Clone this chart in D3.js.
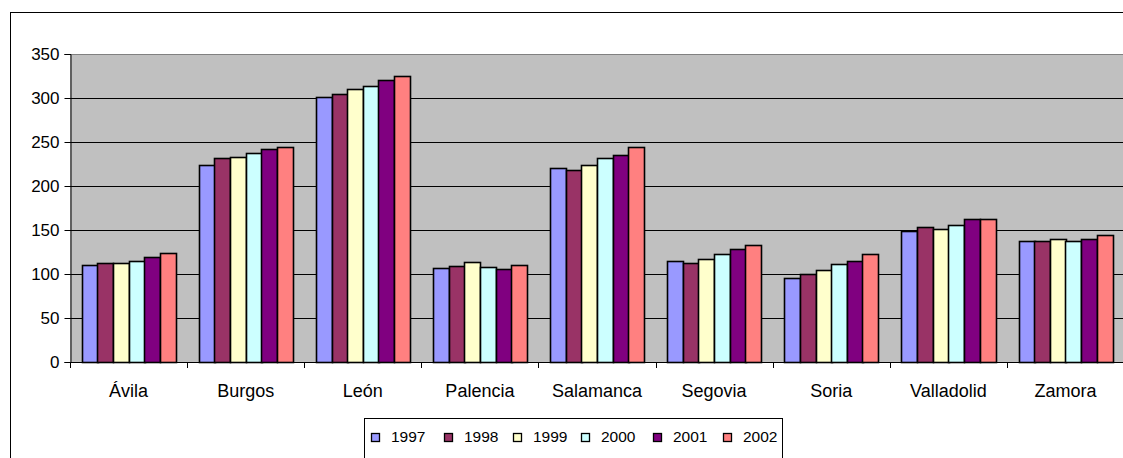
<!DOCTYPE html>
<html>
<head>
<meta charset="utf-8">
<script src="https://cdn.jsdelivr.net/npm/d3@7"></script>
<style>
  html, body { margin: 0; padding: 0; background: #fff; }
  svg { display: block; }
  text { font-family: "Liberation Sans", Arial, sans-serif; fill: #000; }
</style>
</head>
<body>
<svg id="chart" width="1123" height="458"></svg>
<script>
const categories = ["Ávila", "Burgos", "León", "Palencia", "Salamanca", "Segovia", "Soria", "Valladolid", "Zamora"];
const years = ["1997", "1998", "1999", "2000", "2001", "2002"];
const v1997 = [110, 224, 301, 107, 221, 115, 96, 149, 138];
const v1998 = [113, 232, 304, 109, 218, 112, 100, 153, 137];
const v1999 = [113, 233, 310, 114, 224, 117, 105, 151, 140];
const v2000 = [115, 238, 314, 108, 232, 123, 111, 156, 137];
const v2001 = [119, 242, 321, 106, 235, 128, 115, 162, 140];
const v2002 = [124, 244, 325, 110, 244, 133, 123, 162, 144];
const yTicks = [0, 50, 100, 150, 200, 250, 300, 350];
const colors = ["#9999FF", "#993366", "#FFFFCC", "#CCFFFF", "#800080", "#FF8080"];

const seriesValues = [v1997, v1998, v1999, v2000, v2001, v2002];

const svg = d3.select("#chart");

// outer chart border
svg.append("rect")
  .attr("x", 10.5).attr("y", 12.5)
  .attr("width", 1130).attr("height", 470)
  .attr("fill", "#fff").attr("stroke", "#000").attr("stroke-width", 1);

const plot = { left: 70, right: 1124, top: 54, bottom: 362 };

const x = d3.scaleBand().domain(categories).range([plot.left, plot.right]).padding(0);
const x1 = d3.scaleBand().domain(years).range([0, x.bandwidth()]).paddingInner(0).paddingOuter(0.75);
const y = d3.scaleLinear().domain([0, 350]).range([plot.bottom, plot.top]);

// plot area background
svg.append("rect")
  .attr("x", plot.left).attr("y", y(350))
  .attr("width", plot.right - plot.left).attr("height", y(0) - y(350))
  .attr("fill", "#C0C0C0");

// top border of plot area
svg.append("line")
  .attr("x1", plot.left).attr("x2", plot.right)
  .attr("y1", Math.round(y(350)) + 0.5).attr("y2", Math.round(y(350)) + 0.5)
  .attr("stroke", "#808080");

// gridlines
svg.append("g").selectAll("line")
  .data(yTicks.filter(d => d > 0 && d < 350))
  .join("line")
  .attr("x1", plot.left).attr("x2", plot.right)
  .attr("y1", d => Math.round(y(d)) + 0.5).attr("y2", d => Math.round(y(d)) + 0.5)
  .attr("stroke", "#000").attr("stroke-width", 1);

// bars
const groups = svg.append("g").selectAll("g")
  .data(years)
  .join("g")
  .attr("fill", (d, i) => colors[i]);

groups.selectAll("rect")
  .data((yr, si) => categories.map((c, ci) => ({ c, yr, v: seriesValues[si][ci] })))
  .join("rect")
  .attr("x", d => Math.round(x(d.c) + x1(d.yr)) + 0.5)
  .attr("y", d => Math.round(y(d.v)) + 0.5)
  .attr("width", d => Math.round(x1.bandwidth()))
  .attr("height", d => Math.round(y(0)) - Math.round(y(d.v)))
  .attr("stroke", "#000").attr("stroke-width", 1.6);

// y axis
const yAxis = svg.append("g")
  .attr("transform", `translate(${plot.left + 0.5},0)`)
  .call(d3.axisLeft(y).tickValues(yTicks).tickSize(6).tickPadding(5).tickFormat(d3.format("d")));
yAxis.select(".domain").attr("stroke", "#000");
yAxis.selectAll(".tick line").attr("stroke", "#000");
yAxis.selectAll(".tick text").attr("font-size", 17).attr("font-family", "'Liberation Sans', Arial, sans-serif").attr("fill", "#000");

// x axis: line + boundary ticks
svg.append("line")
  .attr("x1", plot.left).attr("x2", plot.right)
  .attr("y1", plot.bottom + 0.5).attr("y2", plot.bottom + 0.5)
  .attr("stroke", "#000");
svg.append("g").selectAll("line")
  .data(categories)
  .join("line")
  .attr("x1", d => Math.round(x(d)) + 0.5).attr("x2", d => Math.round(x(d)) + 0.5)
  .attr("y1", plot.bottom).attr("y2", plot.bottom + 6)
  .attr("stroke", "#000");

const xAxis = svg.append("g")
  .attr("transform", `translate(0,${plot.bottom})`)
  .call(d3.axisBottom(x).tickSize(0).tickPadding(22));
xAxis.select(".domain").remove();
xAxis.selectAll(".tick text")
  .attr("font-size", 18).attr("font-family", "'Liberation Sans', Arial, sans-serif").attr("fill", "#000")
  .attr("dy", 0).attr("y", 35);

// legend
const legend = svg.append("g");
legend.append("rect")
  .attr("x", 364.5).attr("y", 418.5)
  .attr("width", 418).attr("height", 60)
  .attr("fill", "#fff").attr("stroke", "#000");
const legendX = [371, 444, 513, 581, 653, 723];
const items = legend.selectAll("g.item")
  .data(years)
  .join("g").attr("class", "item")
  .attr("transform", (d, i) => `translate(${legendX[i]},0)`);
items.append("rect")
  .attr("x", 0.5).attr("y", 433.5).attr("width", 8).attr("height", 8)
  .attr("fill", (d, i) => colors[i]).attr("stroke", "#000").attr("stroke-width", 1.3);
items.append("text")
  .attr("x", 20).attr("y", 442)
  .attr("font-size", 15.5)
  .text(d => d);
</script>
</body>
</html>
